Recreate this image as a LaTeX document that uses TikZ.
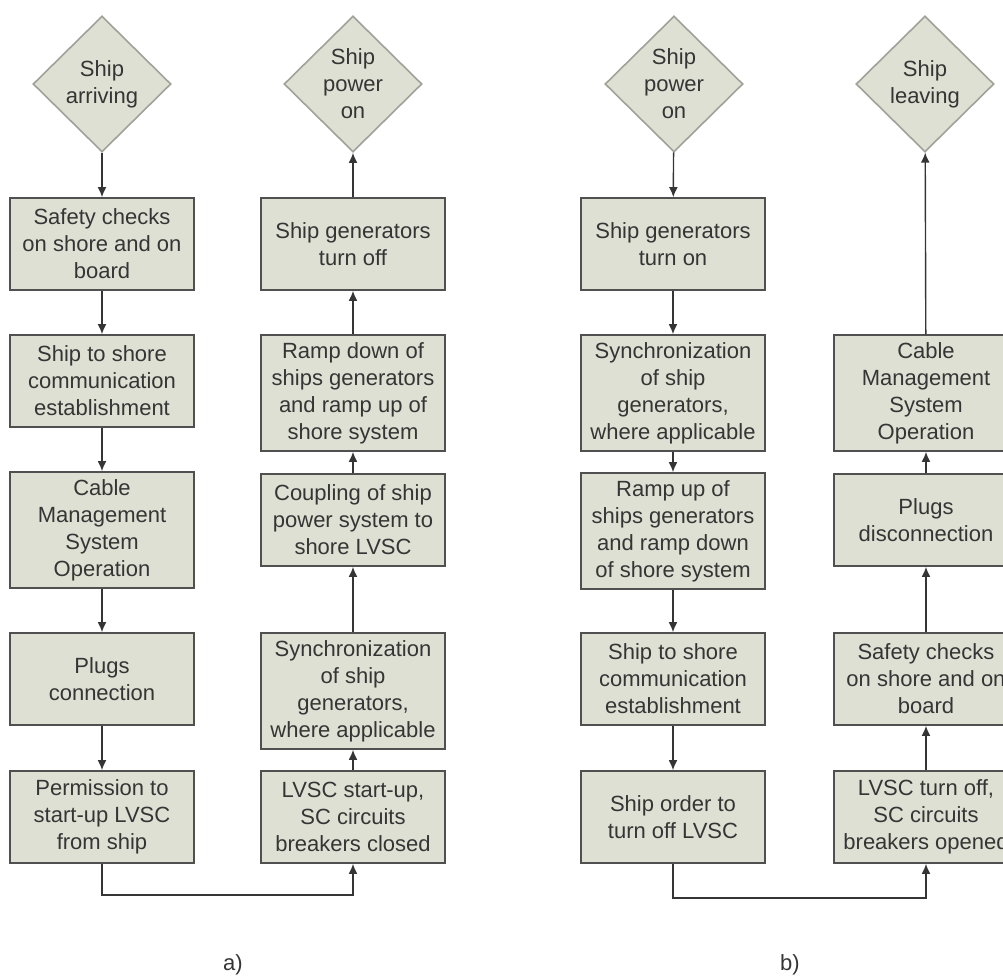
\documentclass[tikz,border=0pt]{standalone}
\usepackage{fontspec}
\setmainfont{Liberation Sans}
\usetikzlibrary{shapes.geometric,arrows.meta}
\definecolor{boxfill}{HTML}{DEE0D3}
\definecolor{boxline}{HTML}{505050}
\definecolor{diaedge}{HTML}{A0A29A}
\definecolor{txt}{HTML}{353535}

\begin{document}
\begin{tikzpicture}[x=0.5pt,y=-0.5pt,
        font=\fontsize{11}{13.5}\selectfont,
        stepbox/.style={draw=boxline,fill=boxfill,line width=0.8pt,text=txt,align=center,
            inner sep=0pt,minimum width=92pt,minimum height=46pt},
        tall/.style={minimum height=58pt},
        decision/.style={diamond,draw=diaedge,fill=boxfill,line width=0.8pt,text=txt,align=center,
            inner sep=0pt,minimum width=69pt,minimum height=68pt},
        flow/.style={draw=txt,line width=0.7pt,-{Latex[length=5pt,width=4.4pt]}}]

    \useasboundingbox (0,0) rectangle (1003,976);

    % a)
    \node[decision] (arrive) at (102,84) {Ship\\arriving};
    \node[stepbox] (achk) at (102,244) {Safety checks\\on shore and on\\board};
    \node[stepbox] (acom) at (102,381) {Ship to shore\\communication\\establishment};
    \node[stepbox,tall] (acab) at (102,530) {Cable\\Management\\System\\Operation};
    \node[stepbox] (aplug) at (102,679) {Plugs\\connection};
    \node[stepbox] (aperm) at (102,817) {Permission to\\start-up LVSC\\from ship};

    \node[decision] (apwr) at (353,84) {Ship\\power\\on};
    \node[stepbox] (aoff) at (353,244) {Ship generators\\turn off};
    \node[stepbox,tall] (aramp) at (353,393) {Ramp down of\\ships generators\\and ramp up of\\shore system};
    \node[stepbox] (acpl) at (353,520) {Coupling of ship\\power system to\\shore LVSC};
    \node[stepbox,tall] (async) at (353,691) {Synchronization\\of ship\\generators,\\where applicable};
    \node[stepbox] (astart) at (353,817) {LVSC start-up,\\SC circuits\\breakers closed};

    \draw[flow] (arrive) -- (achk);
    \draw[flow] (achk) -- (acom);
    \draw[flow] (acom) -- (acab);
    \draw[flow] (acab) -- (aplug);
    \draw[flow] (aplug) -- (aperm);
    \draw[flow] (aperm.south) -- ++(0,31) -| (astart.south);
    \draw[flow] (astart) -- (async);
    \draw[flow] (async) -- (acpl);
    \draw[flow] (acpl) -- (aramp);
    \draw[flow] (aramp) -- (aoff);
    \draw[flow] (aoff) -- (apwr);

    % b)
    \node[decision] (bpwr) at (674,84) {Ship\\power\\on};
    \node[stepbox] (bon) at (673,244) {Ship generators\\turn on};
    \node[stepbox,tall] (bsync) at (673,393) {Synchronization\\of ship\\generators,\\where applicable};
    \node[stepbox,tall] (bramp) at (673,531) {Ramp up of\\ships generators\\and ramp down\\of shore system};
    \node[stepbox] (bcom) at (673,679) {Ship to shore\\communication\\establishment};
    \node[stepbox] (border) at (673,817) {Ship order to\\turn off LVSC};

    \node[decision] (leave) at (925,84) {Ship\\leaving};
    \node[stepbox,tall] (bcab) at (926,393) {Cable\\Management\\System\\Operation};
    \node[stepbox] (bplug) at (926,520) {Plugs\\disconnection};
    \node[stepbox] (bchk) at (926,679) {Safety checks\\on shore and on\\board};
    \node[stepbox] (bstop) at (926,817) {LVSC turn off,\\SC circuits\\breakers opened};

    \draw[flow] (bpwr) -- (bon);
    \draw[flow] (bon) -- (bsync);
    \draw[flow] (bsync) -- (bramp);
    \draw[flow] (bramp) -- (bcom);
    \draw[flow] (bcom) -- (border);
    \draw[flow] (border.south) -- ++(0,34) -| (bstop.south);
    \draw[flow] (bstop) -- (bchk);
    \draw[flow] (bchk) -- (bplug);
    \draw[flow] (bplug) -- (bcab);
    \draw[flow] (bcab) -- (leave);

    \node[text=txt] (capa) at (233,965) {a)};
    \node[text=txt] (capb) at (790,965) {b)};
\end{tikzpicture}
\end{document}
